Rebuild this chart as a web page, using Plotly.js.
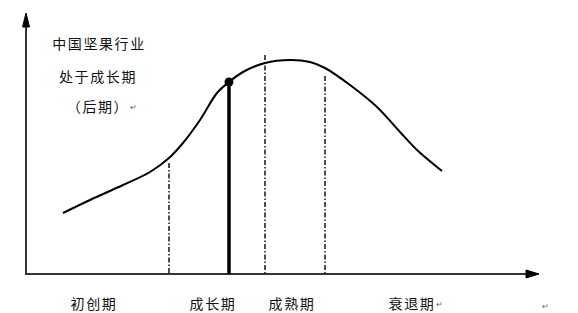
<!DOCTYPE html>
<html>
<head>
<meta charset="utf-8">
<script src="https://cdn.plot.ly/plotly-3.0.1.min.js"></script>
<style>
html,body{margin:0;padding:0;background:#fff;overflow:hidden;}
#chart{width:578px;height:313px;}
.cjk text.annotation-text{letter-spacing:1.6px;}
</style>
</head>
<body>
<div id="chart" class="cjk"></div>
<script>
// Industry life-cycle curve (in picture units)
const curveX = [63, 90, 123, 150, 169, 183, 200, 217, 229, 243, 265, 290, 310, 325, 350, 377, 400, 417, 442];
const curveY = [213, 200, 185, 172, 158, 143, 120, 93, 82, 72, 63, 60, 62, 68, 85, 107, 132, 150, 171];

// Stage boundaries (dash-dot lines)
const boundaryX = [169, 265, 325];
const boundaryTopY = [163, 55, 76];

// Current position of the industry
const currentX = [229];
const currentY = [82];

// Axes
const originX = 26, originY = 274;
const xAxisEnd = 539, yAxisEnd = 13;

// Texts
const stageLabels = ['初创期', '成长期', '成熟期', '衰退期'];
const stageLabelX = [94, 213, 292, 412];
const stageLabelY = 303;
const noteLines = ['中国坚果行业', '处于成长期', '（后期）'];
const noteX = [99, 98, 98];
const noteY = [43, 76, 106];

const traces = [];

// axes lines
traces.push({x: [originX, originX, xAxisEnd - 8], y: [yAxisEnd + 8, originY, originY],
  mode: 'lines', line: {color: '#333', width: 2}, hoverinfo: 'skip'});
// arrow heads
traces.push({x: [originX - 3.5, originX, originX + 3.5, originX - 3.5],
  y: [yAxisEnd + 14, yAxisEnd, yAxisEnd + 14, yAxisEnd + 14],
  mode: 'lines', fill: 'toself', fillcolor: '#000', line: {color: '#000', width: 1}, hoverinfo: 'skip'});
traces.push({x: [xAxisEnd - 13, xAxisEnd, xAxisEnd - 13, xAxisEnd - 13],
  y: [originY - 4, originY, originY + 4, originY - 4],
  mode: 'lines', fill: 'toself', fillcolor: '#000', line: {color: '#000', width: 1}, hoverinfo: 'skip'});

// boundary dash-dot lines
const bx = [], by = [];
boundaryX.forEach((v, i) => { bx.push(v, v, null); by.push(boundaryTopY[i], originY, null); });
traces.push({x: bx, y: by, mode: 'lines', connectgaps: false,
  line: {color: '#222', width: 1.6, dash: '5px,2px,1.5px,2px'}, hoverinfo: 'skip'});

// curve
traces.push({x: curveX, y: curveY, mode: 'lines',
  line: {color: '#000', width: 2, shape: 'spline', smoothing: 1}, hoverinfo: 'skip'});

// current position thick line and dot
traces.push({x: [currentX[0], currentX[0]], y: [currentY[0], originY], mode: 'lines',
  line: {color: '#000', width: 3.5}, hoverinfo: 'skip'});
traces.push({x: currentX, y: currentY, mode: 'markers',
  marker: {color: '#000', size: 9}, hoverinfo: 'skip'});

const font = {family: 'Noto Sans CJK SC, sans-serif', size: 14, color: '#111'};
const annotations = [];
noteLines.forEach((t, i) => annotations.push({x: noteX[i], y: noteY[i], xref: 'x', yref: 'y',
  text: t, showarrow: false, xanchor: 'center', yanchor: 'middle', font: font}));
stageLabels.forEach((t, i) => annotations.push({x: stageLabelX[i], y: stageLabelY, xref: 'x', yref: 'y',
  text: t, showarrow: false, xanchor: 'center', yanchor: 'middle', font: font}));
// paragraph marks
const markFont = {family: 'DejaVu Sans, sans-serif', size: 8, color: '#666'};
[[134, 107], [440, 304], [546, 306]].forEach(p => annotations.push({x: p[0], y: p[1], xref: 'x', yref: 'y',
  text: '↵', showarrow: false, xanchor: 'center', yanchor: 'middle', font: markFont}));

const layout = {
  width: 578, height: 313,
  margin: {l: 0, r: 0, t: 0, b: 0, pad: 0},
  paper_bgcolor: '#fff', plot_bgcolor: '#fff',
  showlegend: false,
  xaxis: {range: [0, 578], visible: false, fixedrange: true},
  yaxis: {range: [313, 0], visible: false, fixedrange: true},
  annotations: annotations
};

Plotly.newPlot('chart', traces, layout, {staticPlot: true, displayModeBar: false});
</script>
</body>
</html>
